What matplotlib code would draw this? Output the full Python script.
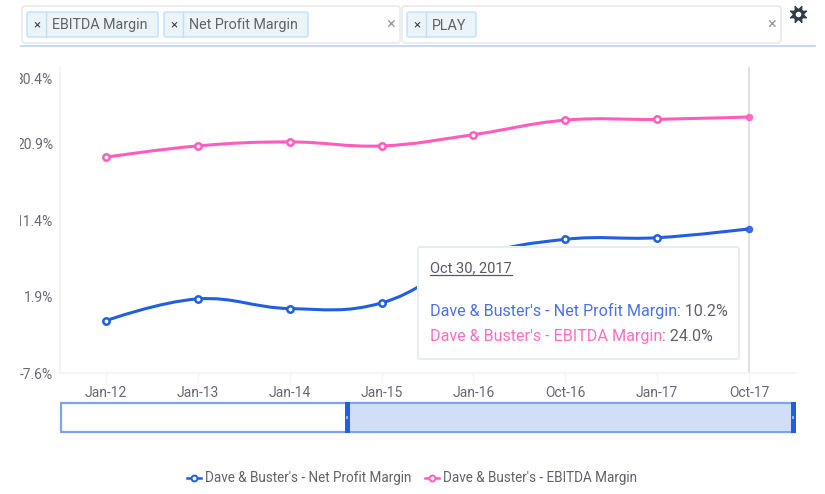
import matplotlib
matplotlib.use("Agg")
import matplotlib.pyplot as plt
from matplotlib.patches import Rectangle, FancyBboxPatch
from matplotlib.path import Path
from matplotlib.patches import PathPatch
from matplotlib.transforms import ScaledTranslation

plt.rcParams["font.family"] = ["Roboto", "DejaVu Sans"]

W, H = 825, 494

categories = ["Jan-12", "Jan-13", "Jan-14", "Jan-15", "Jan-16", "Oct-16", "Jan-17", "Oct-17"]
net_margin = [-1.1, 1.6, 0.4, 1.1, 6.7, 9.0, 9.2, 10.3]
ebitda_margin = [19.2, 20.6, 21.1, 20.6, 22.0, 23.8, 23.9, 24.2]
y_ticks = [-7.6, 1.9, 11.4, 20.9, 30.4]
y_labels = ["-7.6%", "1.9%", "11.4%", "20.9%", "30.4%"]

BLUE = "#1f5fe0"
PINK = "#ff5cbd"
TEXT = "#666a70"
FAINT = "#f1f3f5"


def spline_path(xs, ys, smoothing=1.5):
    # same idea as a highcharts spline: one bezier between each pair of points
    verts = [(xs[0], ys[0])]
    codes = [Path.MOVETO]
    n = len(xs)
    handles = []
    for i in range(n):
        if i == 0 or i == n - 1:
            handles.append(((xs[i], ys[i]), (xs[i], ys[i])))
            continue
        lx = (smoothing * xs[i] + xs[i - 1]) / (smoothing + 1)
        ly = (smoothing * ys[i] + ys[i - 1]) / (smoothing + 1)
        rx = (smoothing * xs[i] + xs[i + 1]) / (smoothing + 1)
        ry = (smoothing * ys[i] + ys[i + 1]) / (smoothing + 1)
        fix = (ry - ly) * (rx - xs[i]) / (rx - lx) + ys[i] - ry
        handles.append(((lx, ly + fix), (rx, ry + fix)))
    for i in range(1, n):
        verts += [handles[i - 1][1], handles[i][0], (xs[i], ys[i])]
        codes += [Path.CURVE4, Path.CURVE4, Path.CURVE4]
    return Path(verts, codes)


fig = plt.figure(figsize=(W / 100, H / 100), dpi=100, facecolor="white")
ax = fig.add_axes([60 / W, (H - 373) / H, 735 / W, 306 / H])
xs = list(range(len(categories)))

for vals, col in [(net_margin, BLUE), (ebitda_margin, PINK)]:
    ax.add_patch(PathPatch(spline_path(xs, vals), fc="none", ec=col, lw=2.2, capstyle="round"))
    ax.plot(xs[:-1], vals[:-1], ls="none", marker="o", ms=4.6, mfc="white", mec=col, mew=1.8, zorder=4)
    ax.plot(xs[-1:], vals[-1:], ls="none", marker="o", ms=4.4, mfc=col, mec=col, alpha=0.85, zorder=4)

ax.axvline(xs[-1], color="#dcdee0", lw=1.3, zorder=1)
ax.set_xlim(-0.5, len(categories) - 0.5)
ax.set_ylim(y_ticks[0], y_ticks[-1])
ax.set_xticks(xs)
ax.set_xticklabels(categories)
ax.set_yticks(y_ticks)
ax.set_yticklabels(y_labels)
ax.tick_params(axis="x", length=7, width=1, color=FAINT, labelsize=10, labelcolor=TEXT, pad=2)
ax.tick_params(axis="y", length=0, labelsize=10, labelcolor=TEXT, pad=5)
for name, sp in ax.spines.items():
    sp.set_visible(name in ("left", "bottom"))
    sp.set_color(FAINT)
    sp.set_linewidth(1.2)

# top label sits lower than its tick in the original
top = ax.get_yticklabels()[-1]
top.set_transform(top.get_transform() + ScaledTranslation(0, -11 / 100, fig.dpi_scale_trans))

# overlay in pixel coordinates for the page widgets
ui = fig.add_axes([0, 0, 1, 1], zorder=5)
ui.set_xlim(0, W)
ui.set_ylim(H, 0)
ui.axis("off")
ui.patch.set_alpha(0)


def box(x0, y0, x1, y1, fc="white", ec="#e8eaec", lw=1.2, r=3, z=2):
    ui.add_patch(FancyBboxPatch((x0 + r, y0 + r), x1 - x0 - 2 * r, y1 - y0 - 2 * r,
                                boxstyle=f"round,pad={r},rounding_size={r}",
                                fc=fc, ec=ec, lw=lw, zorder=z))


def chip(x0, x1, label):
    box(x0, 12, x1, 37, fc="#eaf4f9", ec="#bfe0f8", lw=1, r=2)
    ui.plot([x0 + 19, x0 + 19], [12, 37], color="#bfe0f8", lw=1, zorder=3)
    ui.text(x0 + 9.5, 24.5, "×", ha="center", va="center", fontsize=9.5, color="#444", zorder=4)
    ui.text(x0 + 25, 29.5, label, ha="left", va="baseline", fontsize=10.3, color="#5f6368", zorder=4)


# clip off the left of the y labels, like the cropped screenshot
ui.add_patch(Rectangle((0, 60), 20, 240, fc="white", ec="none", zorder=1))

box(22, 6, 400, 43)
box(402, 6, 781, 43)
chip(27, 158, "EBITDA Margin")
chip(164, 308, "Net Profit Margin")
chip(407, 476, "PLAY")
ui.text(391, 24, "×", ha="center", va="center", fontsize=12, color="#999", zorder=4)
ui.text(772, 24, "×", ha="center", va="center", fontsize=12, color="#999", zorder=4)

# gear icon
ui.plot([798], [14], marker=(8, 1, 22.5), ms=13, color="#333a44", mew=0.8, zorder=4)
ui.plot([798], [14], marker="o", ms=7.5, color="#333a44", zorder=4)
ui.plot([798], [14], marker="o", ms=3, color="white", zorder=5)
ui.plot([21, 815], [46, 46], color="#bcd0f5", lw=1.2, zorder=2)

# range slider
ui.add_patch(Rectangle((61, 403), 733, 29, fc="white", ec="#7ea3ee", lw=1.6, zorder=2))
ui.add_patch(Rectangle((347, 404), 446, 27, fc="#d0def8", ec="none", zorder=3))
for hx in (345, 791):
    ui.add_patch(Rectangle((hx, 402), 4.5, 31, fc=BLUE, ec="none", zorder=4))
    ui.add_patch(Rectangle((hx + 1.3, 415.5), 2, 3.5, fc="#8fb0f0", ec="none", zorder=5))

# tooltip
box(418, 247, 739, 359, fc="white", ec="#e8edf2", lw=1.5, r=2, z=6)
renderer = fig.canvas.get_renderer()


def chained(x, y, parts, size=11.6):
    for s, col in parts:
        t = ui.text(x, y, s, ha="left", va="center", fontsize=size, color=col, zorder=7)
        x += t.get_window_extent(renderer).width
    return x


end = chained(430, 268, [("Oct 30, 2017", "#555a60")], size=10.5)
ui.plot([430, end], [275, 275], color="#555a60", lw=0.9, zorder=7)
chained(430, 311, [("Dave & Buster's - Net Profit Margin", "#4a72e6"), (": 10.2%", "#5f6368")])
chained(430, 336, [("Dave & Buster's - EBITDA Margin", "#ff6cc4"), (": 24.0%", "#5f6368")])

# legend
for lx, col, label in [(187, BLUE, "Dave & Buster's - Net Profit Margin"),
                       (425, PINK, "Dave & Buster's - EBITDA Margin")]:
    ui.plot([lx, lx + 14], [478, 478], color=col, lw=1.8, zorder=3)
    ui.plot([lx + 7], [478], marker="o", ms=4.2, mfc="white", mec=col, mew=1.4, zorder=4)
    ui.text(lx + 18, 477.5, label, ha="left", va="center", fontsize=9.75, color="#5f6368", zorder=4)

fig.savefig("out.png", dpi=100)
